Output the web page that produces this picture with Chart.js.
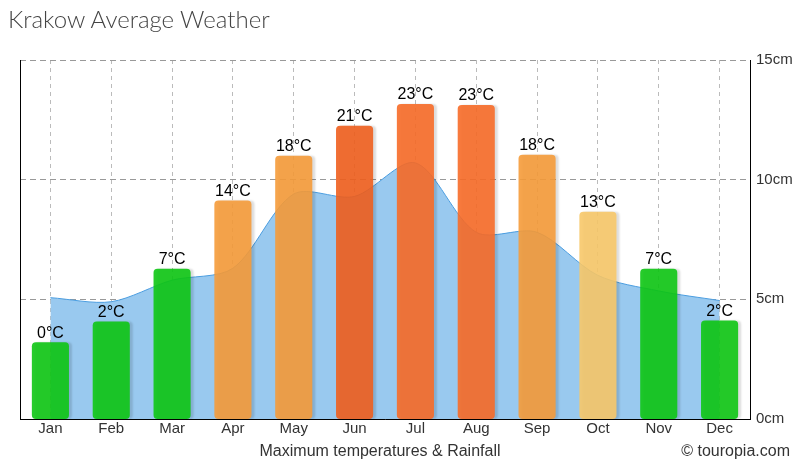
<!DOCTYPE html>
<html>
<head>
<meta charset="utf-8">
<script src="https://cdn.jsdelivr.net/npm/chart.js@4"></script>
<style>
body{margin:0;background:#fff;}
#wrap{position:relative;width:810px;height:470px;overflow:hidden;}
#title{position:absolute;left:8px;top:4px;font-family:Lato,"DejaVu Sans",sans-serif;font-weight:300;font-size:24px;color:#444;white-space:nowrap;}
#sub{position:absolute;left:0;width:760px;top:442px;text-align:center;font-family:"Liberation Sans",Arial,sans-serif;font-size:16px;color:#333;}
#copy{position:absolute;right:20px;top:442px;font-family:"Liberation Sans",Arial,sans-serif;font-size:16px;color:#333;}
</style>
</head>
<body>
<div id="wrap">
<canvas id="chart" width="810" height="470"></canvas>
<div id="title">Krakow Average Weather</div>
<div id="sub">Maximum temperatures &amp; Rainfall</div>
<div id="copy">© touropia.com</div>
</div>
<script>
const months = ["Jan","Feb","Mar","Apr","May","Jun","Jul","Aug","Sep","Oct","Nov","Dec"];
const tempMax = [0, 2, 7.1, 13.7, 18, 20.9, 23, 22.9, 18.1, 12.6, 7.1, 2.1];
const rainfall = [5.07, 4.9, 5.8, 6.3, 9.4, 9.3, 10.7, 7.8, 7.8, 6.0, 5.35, 4.95];
const barColors = [
"rgba(14,198,20,0.9)","rgba(14,198,20,0.9)","rgba(14,198,20,0.9)",
"rgba(245,155,58,0.9)","rgba(245,155,58,0.9)","rgba(240,95,30,0.9)",
"rgba(247,108,40,0.9)","rgba(247,108,40,0.9)","rgba(245,155,58,0.9)",
"rgba(247,200,105,0.9)","rgba(14,198,20,0.9)","rgba(14,198,20,0.9)"
];
const tempMin = -7.4;
const tempTop = 27.25;

const tickFont = "'Liberation Sans', Arial, sans-serif";

const barShadow = {
id:"barShadow",
beforeDatasetDraw(chart, args){
if(args.index !== 0) return;
const ctx = chart.ctx;
ctx.save();
ctx.shadowColor = "rgba(0,0,0,0.15)";
ctx.shadowOffsetX = 3;
ctx.shadowOffsetY = 0;
ctx.shadowBlur = 2;
},
afterDatasetDraw(chart, args){
if(args.index !== 0) return;
chart.ctx.restore();
}
};

const barLabels = {
id:"barLabels",
afterDatasetsDraw(chart){
const ctx = chart.ctx;
const meta = chart.getDatasetMeta(0);
ctx.save();
ctx.font = "16px 'Liberation Sans', Arial, sans-serif";
ctx.fillStyle = "#000";
ctx.textAlign = "center";
ctx.textBaseline = "bottom";
meta.data.forEach((bar, i) => {
ctx.fillText(Math.round(tempMax[i]) + "°C", bar.x, bar.y - 1);
});
ctx.restore();
}
};

new Chart(document.getElementById("chart"), {
type:"bar",
data:{
labels:months,
datasets:[
{
type:"bar",
label:"Temperature",
data:tempMax,
base:tempMin,
yAxisID:"temp",
backgroundColor:barColors,
borderWidth:0,
borderRadius:4,
borderSkipped:false,
barPercentage:1,
categoryPercentage:0.61,
order:1
},
{
type:"line",
label:"Rainfall",
data:rainfall,
yAxisID:"rain",
fill:"origin",
backgroundColor:"rgb(153,201,239)",
borderColor:"#4a9de0",
borderWidth:1,
pointRadius:0,
tension:0.3,
order:2
}
]
},
options:{
responsive:false,
animation:false,
events:[],
layout:{padding:{left:20, top:60, right:0, bottom:0}},
plugins:{legend:{display:false}, tooltip:{enabled:false}},
scales:{
x:{
grid:{color:"#bbb", offset:false, drawTicks:false},
border:{display:true, color:"#000", width:1, dash:[4,4]},
ticks:{color:"#333", font:{size:15, family:tickFont}, padding:1},
afterFit(s){ s.height = 51; }
},
temp:{
position:"left",
min:tempMin,
max:tempTop,
grid:{display:false},
ticks:{display:false},
border:{display:true, color:"#000", width:1},
afterFit(s){ s.width = 0; }
},
rain:{
position:"right",
min:0,
max:15,
ticks:{stepSize:5, color:"#333", font:{size:15, family:tickFont}, padding:6, callback:v => v + "cm"},
grid:{color:"#999", drawTicks:false},
border:{display:true, color:"#000", width:1, dash:[6,4]},
afterFit(s){ s.width = 60; }
}
}
},
plugins:[barShadow, barLabels]
});
</script>
</body>
</html>
